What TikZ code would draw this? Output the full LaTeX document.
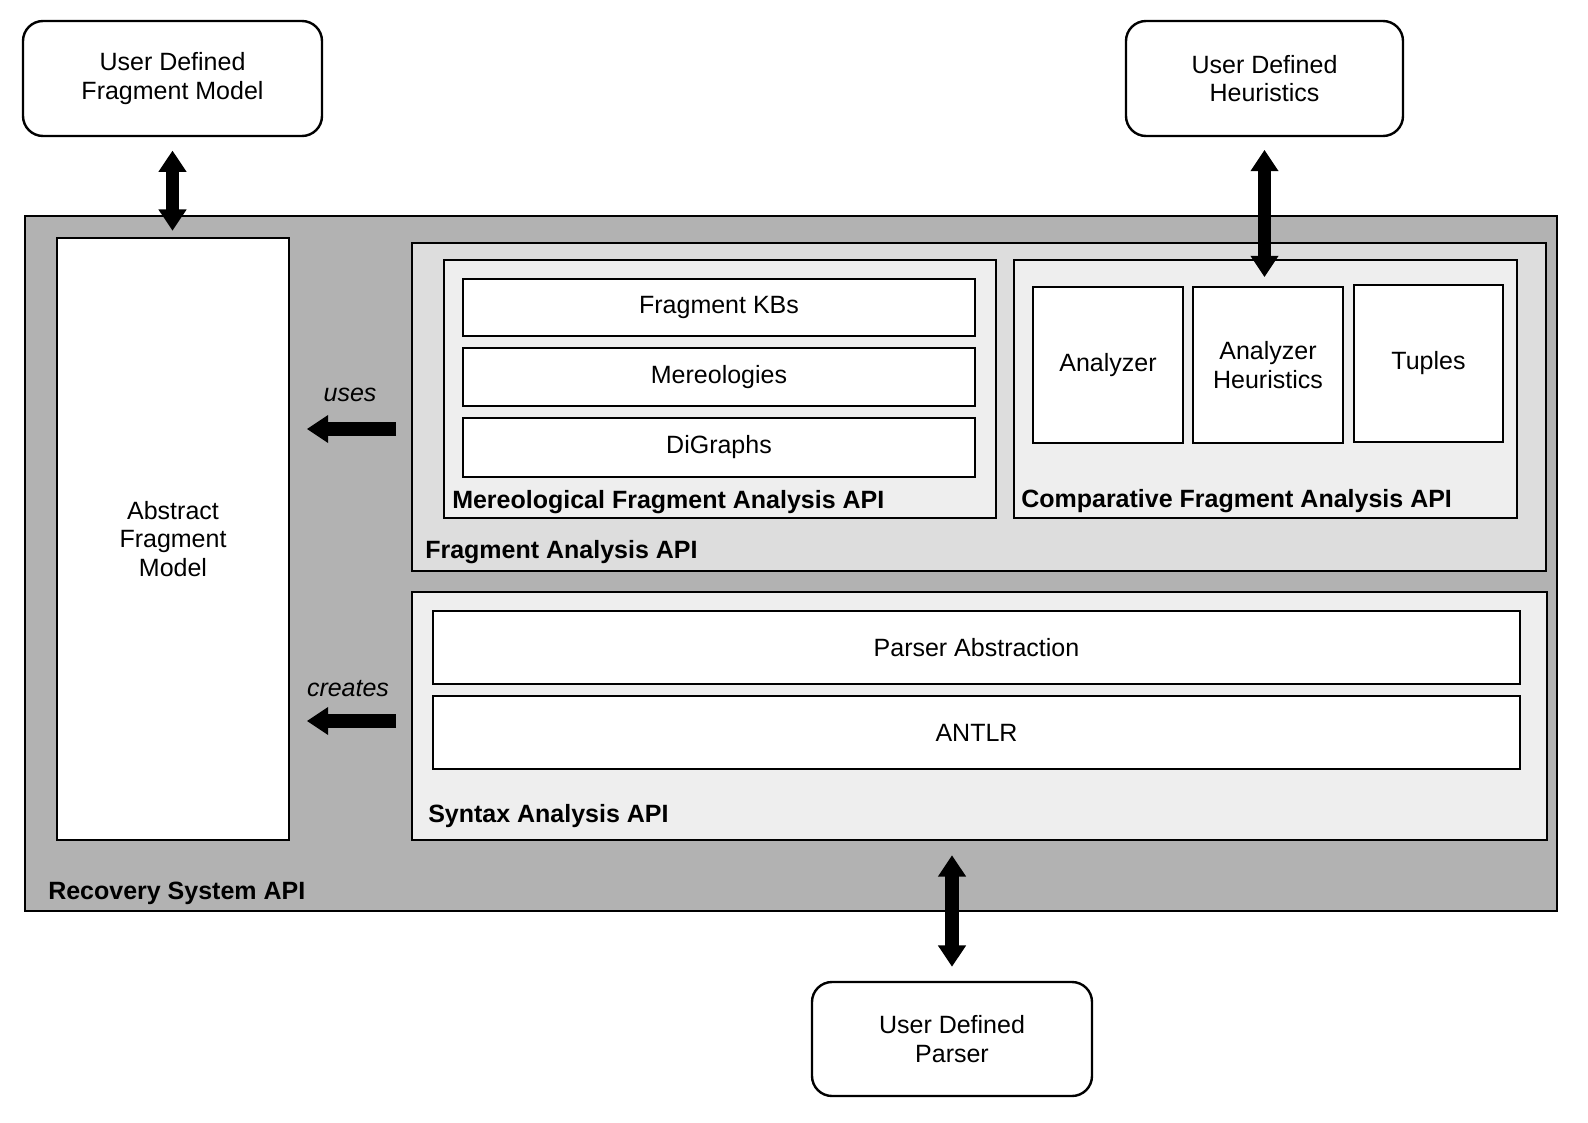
\documentclass[tikz,border=0pt]{standalone}
\usepackage{fontspec}
\setmainfont{Liberation Sans}
\usetikzlibrary{arrows.meta,fit}
\definecolor{rsagray}{HTML}{B2B2B2}
\definecolor{faagray}{HTML}{DDDDDD}
\definecolor{subgray}{HTML}{EEEEEE}
\begin{document}
\begin{tikzpicture}[x=0.75pt,y=-0.75pt,
  font=\fontsize{18.75pt}{21.5pt}\selectfont,
  box/.style={draw, line width=1.8pt, inner sep=0pt},
  userbox/.style={box, fill=white, rounded corners=15pt},
  txt/.style={inner sep=0pt, align=center},
  lbl/.style={font=\fontsize{18.75pt}{21.5pt}\selectfont\bfseries, inner sep=0pt, anchor=base west},
  itl/.style={font=\fontsize{18.75pt}{21.5pt}\selectfont\itshape, inner sep=0pt},
  blk/.style={line width=10pt, -{Triangle[width=20pt,length=16pt]}},
  dblk/.style={line width=10pt, {Triangle[width=20pt,length=16pt]}-{Triangle[width=20pt,length=16pt]}}]
\useasboundingbox (0,0) rectangle (1588,1123);

% user defined boxes
\node[userbox, fit={(23,21) (322,136)}] (ufm) {};
\node[txt] (ufmt) at (ufm.center) {User Defined\\Fragment Model};
\node[userbox, fit={(1126,21) (1403,136)}] (udh) {};
\node[txt] (udht) at (udh.center) {User Defined\\Heuristics};
\node[userbox, fit={(812,982) (1092,1096)}] (udp) {};
\node[txt] (udpt) at (udp.center) {User Defined\\Parser};

% recovery system
\node[box, fill=rsagray, fit={(25,216) (1557,911)}] (rsa) {};
\node[lbl] (rsalbl) at (48,899) {Recovery System API};

\node[box, fill=white, fit={(57,238) (289,840)}] (afm) {};
\node[txt] (afmt) at (afm.center) {Abstract\\Fragment\\Model};

% fragment analysis
\node[box, fill=faagray, fit={(412,243) (1546,571)}] (faa) {};
\node[lbl] (faalbl) at (425,558) {Fragment Analysis API};

\node[box, fill=subgray, fit={(444,260) (996,518)}] (mfa) {};
\node[lbl] (mfalbl) at (452,508) {Mereological Fragment Analysis API};
\node[box, fill=white, fit={(463,279) (975,336)}] (kbs) {};
\node[txt] (kbst) at (kbs.center) {Fragment KBs};
\node[box, fill=white, fit={(463,348) (975,406)}] (mer) {};
\node[txt] (mert) at (mer.center) {Mereologies};
\node[box, fill=white, fit={(463,418) (975,477)}] (dig) {};
\node[txt] (digt) at (dig.center) {DiGraphs};

\node[box, fill=subgray, fit={(1014,260) (1517,518)}] (cfa) {};
\node[lbl] (cfalbl) at (1021,507) {Comparative Fragment Analysis API};
\node[box, fill=white, fit={(1033,287) (1183,443)}] (ana) {};
\node[txt] (anat) at (ana.center) {Analyzer};
\node[box, fill=white, fit={(1193,287) (1343,443)}] (anh) {};
\node[txt] (anht) at (anh.center) {Analyzer\\Heuristics};
\node[box, fill=white, fit={(1354,285) (1503,442)}] (tup) {};
\node[txt] (tupt) at (tup.center) {Tuples};

% syntax analysis
\node[box, fill=subgray, fit={(412,592) (1547,840)}] (saa) {};
\node[lbl] (saalbl) at (428,822) {Syntax Analysis API};
\node[box, fill=white, fit={(433,611) (1520,684)}] (par) {};
\node[txt] (part) at (par.center) {Parser Abstraction};
\node[box, fill=white, fit={(433,696) (1520,769)}] (ant) {};
\node[txt] (antt) at (ant.center) {ANTLR};

% uses / creates
\node[itl] (uses) at (350,395) {uses};
\node[itl] (creates) at (348,689) {creates};
\draw[blk, shorten <=11pt, shorten >=12.5pt] (faa.west |- 0,429) -- (afm.east |- 0,429);
\draw[blk, shorten <=11pt, shorten >=12.5pt] (saa.west |- 0,721) -- (afm.east |- 0,721);

% vertical double arrows
\draw[dblk, shorten <=10pt, shorten >=4.5pt] (ufm.south) -- (ufm.south |- afm.north);
\draw[dblk, shorten <=9.5pt, shorten >=6.5pt] (udh.south) -- (udh.south |- anh.north);
\draw[dblk, shorten <=10.5pt, shorten >=10.5pt] (udp.north) -- (udp.north |- saa.south);
\end{tikzpicture}
\end{document}
